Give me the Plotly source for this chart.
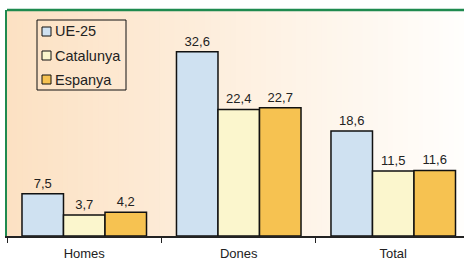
import plotly.graph_objects as go

categories = ["Homes", "Dones", "Total"]
ue25 = [7.5, 32.6, 18.6]
catalunya = [3.7, 22.4, 11.5]
espanya = [4.2, 22.7, 11.6]
series_names = ["UE-25", "Catalunya", "Espanya"]
series_colors = ["#cfe1f1", "#fbf6cd", "#f6c251"]

W, H = 464, 261
ML, MR, MT, MB = 7, 0, 10, 25
PW, PH = W - ML - MR, H - MT - MB


def px2x(px):
    return (px - ML) / PW


def py2y(py):
    return (H - MB - py) / PH


fig = go.Figure()
for name, vals, col in zip(series_names, [ue25, catalunya, espanya], series_colors):
    fig.add_trace(go.Bar(
        x=categories, y=vals, name=name,
        marker=dict(color=col, line=dict(color="#111111", width=1.5)),
        texttemplate="%{y:.1f}", textposition="outside",
        textfont=dict(size=13, color="#222222"),
        cliponaxis=False, showlegend=False, hoverinfo="skip",
    ))

# background gradient
shapes = []
n = 90
c0 = (252, 225, 195)
c1 = (255, 254, 252)
for i in range(n):
    t = i / (n - 1)
    r = round(c0[0] + (c1[0] - c0[0]) * t)
    g = round(c0[1] + (c1[1] - c0[1]) * t)
    b = round(c0[2] + (c1[2] - c0[2]) * t)
    shapes.append(dict(type="rect", xref="paper", yref="paper",
                       x0=i / n, x1=(i + 1) / n + 0.002, y0=0, y1=1,
                       fillcolor=f"rgb({r},{g},{b})", line=dict(width=0), layer="below"))
shapes.append(dict(type="line", xref="paper", yref="paper", x0=0, x1=1.02, y0=1, y1=1,
                   line=dict(color="#1f8a4f", width=2.5)))

# custom legend
annotations = []
shapes.append(dict(type="rect", xref="paper", yref="paper",
                   x0=px2x(37), x1=px2x(126), y0=py2y(90), y1=py2y(20),
                   line=dict(color="#111111", width=1), fillcolor="rgba(0,0,0,0)"))
for k, (name, col) in enumerate(zip(series_names, series_colors)):
    cy = 31.5 + 24 * k
    shapes.append(dict(type="rect", xref="paper", yref="paper",
                       x0=px2x(42), x1=px2x(51), y0=py2y(cy + 4.5), y1=py2y(cy - 4.5),
                       line=dict(color="#111111", width=1), fillcolor=col))
    annotations.append(dict(xref="paper", yref="paper", x=px2x(53), y=py2y(cy),
                            xanchor="left", yanchor="middle", text=name, showarrow=False,
                            font=dict(size=14.5, color="#222222")))

fig.update_layout(
    width=W, height=H,
    margin=dict(l=ML, r=MR, t=MT, b=MB),
    paper_bgcolor="white", plot_bgcolor="rgba(0,0,0,0)",
    font=dict(family="Liberation Sans, Arial, sans-serif", size=13, color="#222222"),
    separators=",.",
    barmode="group", bargap=0.194, bargroupgap=0,
    shapes=shapes, annotations=annotations,
    showlegend=False,
)
fig.update_xaxes(range=[-0.5, 2.458], showline=True, linecolor="#222222", linewidth=1.5,
                 ticks="outside", tickson="boundaries", ticklen=5, tickcolor="#222222",
                 ticklabelstandoff=5,
                 showgrid=False, tickfont=dict(size=13, color="#222222"))
fig.update_yaxes(range=[0, 40], showline=True, linecolor="#1f8a4f", linewidth=2,
                 showticklabels=False, showgrid=False, zeroline=False, ticks="")

fig.write_html("out.html", config={"displayModeBar": False},
               post_script="document.body.style.margin='0';")
